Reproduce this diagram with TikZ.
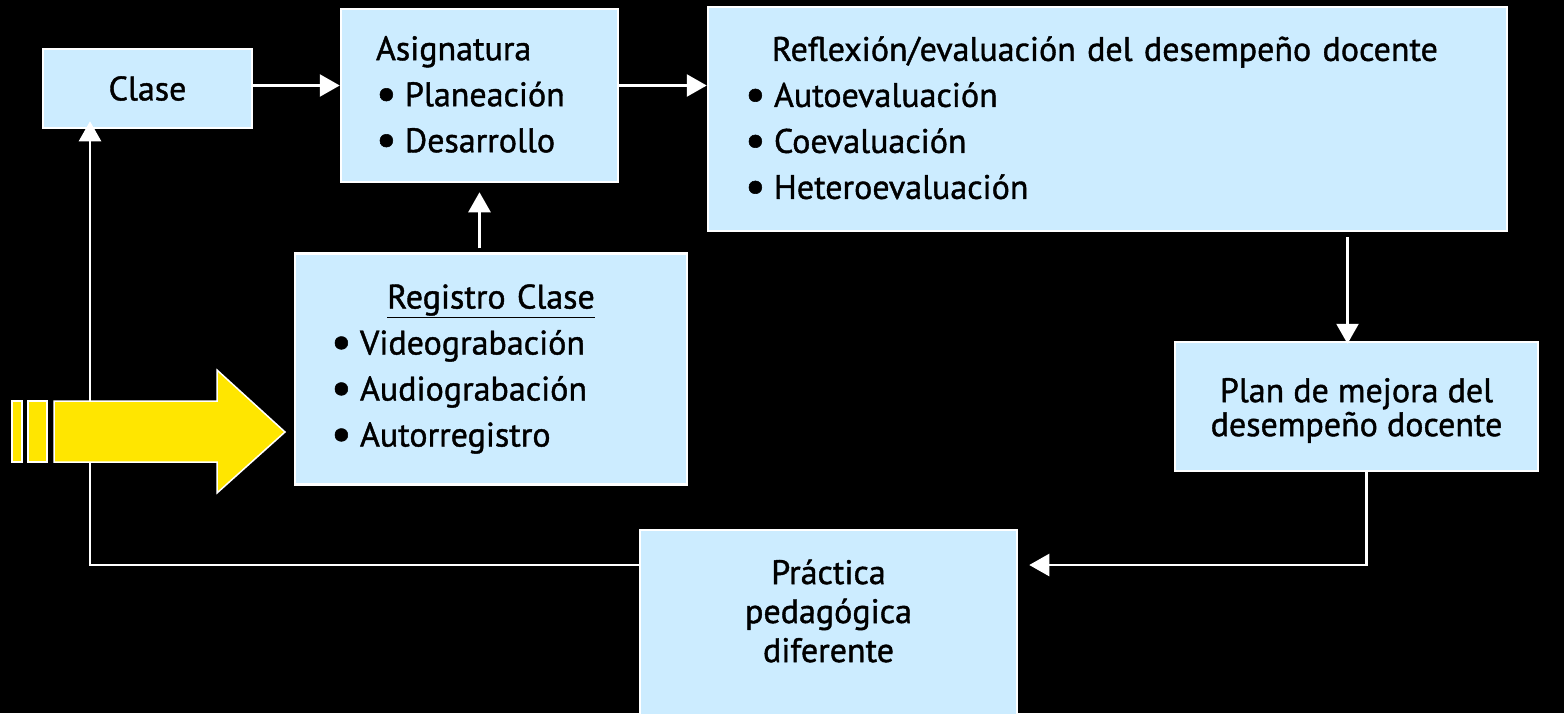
\documentclass[tikz,border=0pt]{standalone}
\usepackage{fontspec}
\setmainfont{PT Sans}[BoldFont={PT Sans}, BoldFeatures={FakeBold=1.2}]
\usetikzlibrary{arrows.meta, calc}

\definecolor{boxblue}{RGB}{204,236,255}
\definecolor{arrowyellow}{RGB}{255,230,0}
\newcommand{\itm}[1]{\makebox[29pt][l]{\raisebox{-.08em}{\scalebox{1.35}{\textbullet}}}#1}

\begin{document}
\begin{tikzpicture}[x=1pt, y=-1pt, every node/.style={inner sep=0pt},
    txt/.style={text=black, font=\fontsize{34}{46}\selectfont\bfseries},
    box/.style={txt, draw=white, line width=2.5pt, fill=boxblue},
    link/.style={draw=white, line width=2.5pt, -{Triangle[length=20pt,width=22pt]}}]

    % Background
    \fill[black] (0,0) rectangle (1564,713);
    \useasboundingbox (0,0) rectangle (1564,713);

    % Define the boxes (nodes)
    \node[box, minimum width=209, minimum height=79] (clase) at (147.5,88.5) {Clase};
    \node[box, minimum width=277, minimum height=173, text width=207, align=left] (asig) at (479.5,95.5) {Asignatura\\ \itm{Planeación}\\ \itm{Desarrollo}};
    \node[box, minimum width=799, minimum height=224, text width=725, align=left] (refl) at (1107.5,119) {\hspace*{27pt}Reflexión/evaluación del desempeño docente\\
                    \itm{Autoevaluación}\\
                    \itm{Coevaluación}\\
                    \itm{Heteroevaluación}};
    \node[box, minimum width=392, minimum height=231, text width=320, align=left] (reg) at (491,369) {\makebox[320pt][c]{\underline{Registro Clase}}\\
                    \itm{Videograbación}\\
                    \itm{Audiograbación}\\
                    \itm{Autorregistro}};
    \node[box, minimum width=363, minimum height=129] (plan) at (1356.5,406.5) {};
    \node[txt, font=\fontsize{34}{34}\selectfont\bfseries, align=center] (plantxt) at ([yshift=-4]plan.center) {Plan de mejora del\\desempeño docente};
    \node[box, minimum width=377, minimum height=190] (prac) at (828.5,625) {};
    \node[txt, font=\fontsize{34}{39}\selectfont\bfseries, align=center] (practxt) at ([yshift=14]prac.center) {Práctica\\pedagógica\\diferente};
    \coordinate (ret) at (90,565); % corner of the return line

    % Define the connectors
    \path[link] ($(clase.east)+(0,-3)$) -- ($(clase.east -| asig.west)+(0,-3)$);
    \path[link] ($(asig.east |- clase.east)+(0,-3)$) -- ($(refl.west |- clase.east)+(0,-3)$);
    \path[link, shorten <=4pt, shorten >=9pt] (reg.north -| asig.south) -- (asig.south);
    \path[link, shorten <=5pt, shorten >=-3pt] ($(refl.south -| plan.north)+(-9,0)$) -- ($(plan.north)+(-9,0)$);
    \path[link] ($(plan.south)+(10,0)$) |- ($(prac.east |- ret)+(11,0)$);
    \path[link, shorten >=-8pt] (prac.west |- ret) -- (ret) -- (ret |- clase.south);

    % Yellow arrow, over the return line
    \filldraw[fill=arrowyellow, draw=white, line width=1.5pt] (12,401) rectangle (22,462) (28,401) rectangle (47,462);
    \filldraw[fill=arrowyellow, draw=white, line width=1.5pt] (54,401) -- (217,401) -- (217,370) -- (285,432) -- (217,493) -- (217,462) -- (54,462) -- cycle;
\end{tikzpicture}
\end{document}
